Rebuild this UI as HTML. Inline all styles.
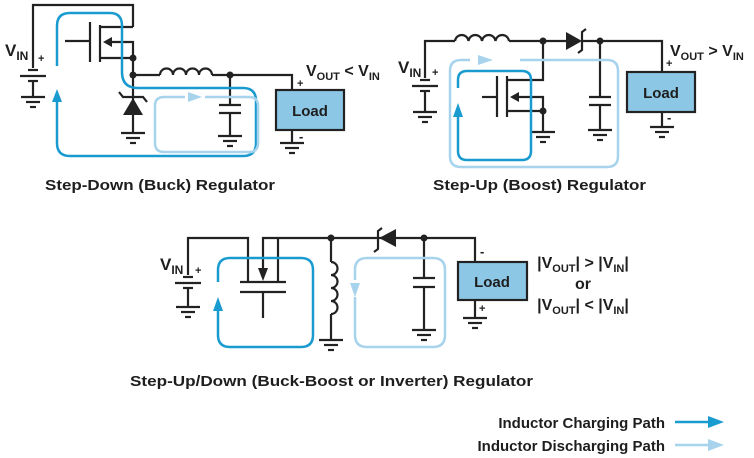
<!DOCTYPE html>
<html><head><style>
html,body{margin:0;padding:0;background:#fff;}
svg{display:block;}
text{font-family:"Liberation Sans",sans-serif;font-weight:bold;fill:#1e1e1e;}
</style></head><body>
<svg width="754" height="458" viewBox="0 0 754 458" xmlns="http://www.w3.org/2000/svg">
<defs>
<g id="gnd"><line x1="-12" y1="0" x2="12" y2="0"/><line x1="-7" y1="5" x2="7" y2="5"/><line x1="-3" y1="10" x2="3" y2="10"/></g>
</defs>

<!-- ================= BUCK ================= -->
<g stroke="#222" stroke-width="2.2" fill="none">
  <polyline points="33,68 33,5 133,5 133,27"/>
  <line x1="28" y1="70" x2="38" y2="70"/>
  <line x1="20" y1="76" x2="46" y2="76"/>
  <line x1="28" y1="81" x2="38" y2="81"/>
  <line x1="33" y1="81" x2="33" y2="97"/>
  <use href="#gnd" x="33" y="97"/>
  <line x1="65" y1="41" x2="90" y2="41"/>
  <line x1="90" y1="22" x2="90" y2="62"/>
  <line x1="100" y1="25" x2="100" y2="62"/>
  <line x1="100" y1="27" x2="133" y2="27"/>
  <polyline points="110,42 133,42 133,75"/>
  <line x1="100" y1="58" x2="133" y2="58"/>
  <line x1="133" y1="75" x2="160" y2="75"/>
  <path d="M160,75 a6.5,6.5 0 0 1 13,0 a6.5,6.5 0 0 1 13,0 a6.5,6.5 0 0 1 13,0 a6.5,6.5 0 0 1 13,0"/>
  <polyline points="212,75 292,75 292,90"/>
  <line x1="133" y1="75" x2="133" y2="133"/>
  <polyline points="119,92 123,97 143,97 147,102"/>
  <use href="#gnd" x="133" y="133"/>
  <line x1="230" y1="75" x2="230" y2="105"/>
  <line x1="219" y1="105" x2="241" y2="105"/>
  <line x1="219" y1="113" x2="241" y2="113"/>
  <line x1="230" y1="113" x2="230" y2="136"/>
  <use href="#gnd" x="230" y="136"/>
  <line x1="292" y1="130" x2="292" y2="143"/>
  <use href="#gnd" x="292" y="143"/>
</g>
<polygon points="103,42 112,37 112,47" fill="#222"/>
<polygon points="133,98 123,115 143,115" fill="#222"/>
<circle cx="133" cy="58" r="3.5" fill="#222"/>
<circle cx="133" cy="75" r="3.5" fill="#222"/>
<circle cx="230" cy="75" r="3.5" fill="#222"/>
<rect x="276" y="90" width="68" height="40" fill="#8cc8e6" stroke="#222" stroke-width="2.2"/>
<text x="310" y="116" font-size="15" text-anchor="middle">Load</text>
<text x="5" y="56" font-size="17">V<tspan font-size="12" dy="4">IN</tspan></text>
<text x="38" y="62" font-size="11">+</text>
<text x="297" y="87" font-size="11">+</text>
<text x="299" y="141" font-size="13">-</text>
<text x="306" y="76" font-size="16">V<tspan font-size="11" dy="4">OUT</tspan><tspan dy="-4"> &lt; V</tspan><tspan font-size="11" dy="4">IN</tspan></text>
<path d="M57,66 V26 Q57,13 70,13 H110 Q122,13 122,26 V72 Q122,88 138,88 H243 Q256,88 256,101 V143 Q256,156 243,156 H70 Q57,156 57,143 V100" fill="none" stroke="#1a9bd0" stroke-width="2.5"/>
<polygon points="57,89 52,102 62,102" fill="#1a9bd0"/>
<path d="M205,97 H249 Q258,97 258,106 V143 Q258,152 249,152 H164 Q155,152 155,143 V106 Q155,97 164,97 H185" fill="none" stroke="#a7d3ec" stroke-width="2.5"/>
<polygon points="202,97 188,92 188,102" fill="#a7d3ec"/>
<text x="45" y="190" font-size="15" textLength="230" lengthAdjust="spacingAndGlyphs">Step-Down (Buck) Regulator</text>

<!-- ================= BOOST ================= -->
<g stroke="#222" stroke-width="2.2" fill="none">
  <polyline points="425,78 425,41 455,41"/>
  <path d="M455,41 a6.8,6.8 0 0 1 13.5,0 a6.8,6.8 0 0 1 13.5,0 a6.8,6.8 0 0 1 13.5,0 a6.8,6.8 0 0 1 13.5,0"/>
  <line x1="509" y1="41" x2="566" y2="41"/>
  <polyline points="578,53 582,50 582,32 586,29"/>
  <polyline points="582,41 662,41 662,72"/>
  <line x1="420" y1="80" x2="430" y2="80"/>
  <line x1="412" y1="86" x2="438" y2="86"/>
  <line x1="420" y1="91" x2="430" y2="91"/>
  <line x1="425" y1="91" x2="425" y2="112"/>
  <use href="#gnd" x="425" y="112"/>
  <polyline points="543,41 543,80 507,80"/>
  <line x1="482" y1="97" x2="497" y2="97"/>
  <line x1="497" y1="76" x2="497" y2="117"/>
  <line x1="507" y1="76" x2="507" y2="117"/>
  <polyline points="517,97 543,97 543,132"/>
  <line x1="507" y1="111" x2="543" y2="111"/>
  <use href="#gnd" x="543" y="132"/>
  <line x1="600" y1="41" x2="600" y2="97"/>
  <line x1="589" y1="97" x2="611" y2="97"/>
  <line x1="589" y1="105" x2="611" y2="105"/>
  <line x1="600" y1="105" x2="600" y2="130"/>
  <use href="#gnd" x="600" y="130"/>
  <line x1="662" y1="112" x2="662" y2="127"/>
  <use href="#gnd" x="662" y="127"/>
</g>
<polygon points="566,32 566,50 582,41" fill="#222"/>
<polygon points="510,97 519,92 519,102" fill="#222"/>
<circle cx="543" cy="41" r="3.5" fill="#222"/>
<circle cx="600" cy="41" r="3.5" fill="#222"/>
<circle cx="543" cy="111" r="3.5" fill="#222"/>
<rect x="627" y="72" width="68" height="40" fill="#8cc8e6" stroke="#222" stroke-width="2.2"/>
<text x="661" y="98" font-size="15" text-anchor="middle">Load</text>
<text x="398" y="73" font-size="17">V<tspan font-size="12" dy="4">IN</tspan></text>
<text x="432" y="76" font-size="11">+</text>
<text x="666" y="67" font-size="11">+</text>
<text x="667" y="122" font-size="13">-</text>
<text x="670" y="56" font-size="16">V<tspan font-size="11" dy="4">OUT</tspan><tspan dy="-4"> &gt; V</tspan><tspan font-size="11" dy="4">IN</tspan></text>
<path d="M520,60 H607 Q618,60 618,71 V156 Q618,167 607,167 H461 Q450,167 450,156 V71 Q450,60 461,60 H470" fill="none" stroke="#a7d3ec" stroke-width="2.5"/>
<polygon points="493,60 478,55 478,65" fill="#a7d3ec"/>
<path d="M458,88 V80 Q458,71 467,71 H522 Q531,71 531,80 V151 Q531,160 522,160 H467 Q458,160 458,151 V112" fill="none" stroke="#1a9bd0" stroke-width="2.5"/>
<polygon points="458,103 453,117 463,117" fill="#1a9bd0"/>
<text x="433" y="190" font-size="15" textLength="213" lengthAdjust="spacingAndGlyphs">Step-Up (Boost) Regulator</text>

<!-- ================= INVERTER ================= -->
<g stroke="#222" stroke-width="2.2" fill="none">
  <polyline points="188,275 188,238 248,238 248,282"/>
  <polyline points="263,268 263,238 475,238 475,262"/>
  <line x1="278" y1="238" x2="278" y2="282"/>
  <line x1="240" y1="282" x2="286" y2="282"/>
  <line x1="240" y1="292" x2="286" y2="292"/>
  <line x1="263" y1="292" x2="263" y2="318"/>
  <line x1="183" y1="277" x2="193" y2="277"/>
  <line x1="175" y1="283" x2="201" y2="283"/>
  <line x1="183" y1="288" x2="193" y2="288"/>
  <line x1="188" y1="288" x2="188" y2="307"/>
  <use href="#gnd" x="188" y="307"/>
  <polyline points="331,238 331,262"/>
  <path d="M331,262 a6.5,6.5 0 0 1 0,13 a6.5,6.5 0 0 1 0,13 a6.5,6.5 0 0 1 0,13 a6.5,6.5 0 0 1 0,13"/>
  <line x1="331" y1="314" x2="331" y2="340"/>
  <use href="#gnd" x="331" y="340"/>
  <line x1="424" y1="238" x2="424" y2="278"/>
  <line x1="413" y1="278" x2="435" y2="278"/>
  <line x1="413" y1="287" x2="435" y2="287"/>
  <line x1="424" y1="287" x2="424" y2="330"/>
  <use href="#gnd" x="424" y="330"/>
  <line x1="475" y1="300" x2="475" y2="318"/>
  <use href="#gnd" x="475" y="318"/>
</g>
<polyline points="374,252 378,249 378,231 382,228" fill="none" stroke="#222" stroke-width="2.2"/>
<polygon points="379,238 396,229 396,247" fill="#222"/>
<polygon points="263,281 258,268 268,268" fill="#222"/>
<circle cx="331" cy="238" r="3.5" fill="#222"/>
<circle cx="424" cy="238" r="3.5" fill="#222"/>
<rect x="458" y="262" width="69" height="38" fill="#8cc8e6" stroke="#222" stroke-width="2.2"/>
<text x="492" y="287" font-size="15" text-anchor="middle">Load</text>
<text x="160" y="270" font-size="17">V<tspan font-size="12" dy="4">IN</tspan></text>
<text x="195" y="274" font-size="11">+</text>
<text x="480" y="256" font-size="13">-</text>
<text x="479" y="312" font-size="11">+</text>
<text x="583" y="268" font-size="16" text-anchor="middle">|V<tspan font-size="11" dy="4">OUT</tspan><tspan dy="-4">| &gt; |V</tspan><tspan font-size="11" dy="4">IN</tspan><tspan dy="-4">|</tspan></text>
<text x="583" y="289" font-size="16" text-anchor="middle">or</text>
<text x="583" y="310" font-size="16" text-anchor="middle">|V<tspan font-size="11" dy="4">OUT</tspan><tspan dy="-4">| &lt; |V</tspan><tspan font-size="11" dy="4">IN</tspan><tspan dy="-4">|</tspan></text>
<path d="M218,282 V270 Q218,258 230,258 H301 Q313,258 313,270 V335 Q313,347 301,347 H230 Q218,347 218,335 V310" fill="none" stroke="#1a9bd0" stroke-width="2.5"/>
<polygon points="218,297 213,311 223,311" fill="#1a9bd0"/>
<path d="M355,297 V335 Q355,347 367,347 H433 Q445,347 445,335 V270 Q445,258 433,258 H367 Q355,258 355,270 V280" fill="none" stroke="#a7d3ec" stroke-width="2.5"/>
<polygon points="355,297 350,283 360,283" fill="#a7d3ec"/>
<text x="130" y="386" font-size="15" textLength="403" lengthAdjust="spacingAndGlyphs">Step-Up/Down (Buck-Boost or Inverter) Regulator</text>

<text x="665" y="428" font-size="15" text-anchor="end">Inductor Charging Path</text>
<text x="665" y="451" font-size="15" text-anchor="end">Inductor Discharging Path</text>
<line x1="675" y1="422" x2="712" y2="422" stroke="#1a9bd0" stroke-width="2.5"/>
<polygon points="724,422 708,416 708,428" fill="#1a9bd0"/>
<line x1="675" y1="445" x2="712" y2="445" stroke="#a7d3ec" stroke-width="2.5"/>
<polygon points="724,445 708,439 708,451" fill="#a7d3ec"/>
</svg>
</body></html>
